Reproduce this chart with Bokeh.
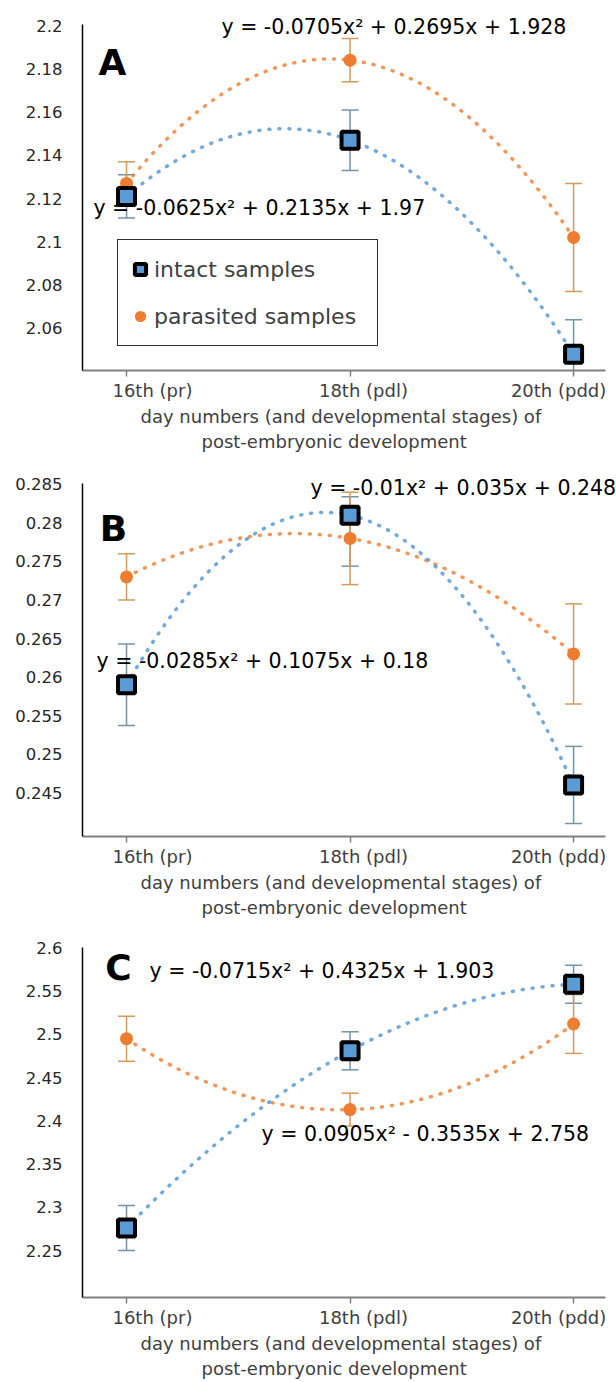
import numpy as np
from bokeh.plotting import figure
from bokeh.models import (ColumnDataSource, Whisker, TeeHead, Label, Legend, LegendItem,
                          FixedTicker, Range1d, Title, LinearAxis)
from bokeh.layouts import column
from bokeh.embed import file_html
from bokeh.resources import INLINE

# ---------------- data ----------------
days = [1, 2, 3]
day_labels = ["16th (pr)", "18th (pdl)", "20th (pdd)"]

a_intact = [2.121, 2.147, 2.048]
a_intact_err_lo = [0.010, 0.014, 0.016]
a_intact_err_hi = [0.010, 0.014, 0.016]
a_paras = [2.127, 2.184, 2.102]
a_paras_err_lo = [0.010, 0.010, 0.025]
a_paras_err_hi = [0.010, 0.010, 0.025]
a_ticks = [2.06, 2.08, 2.1, 2.12, 2.14, 2.16, 2.18, 2.2]
a_tick_labels = ["2.06", "2.08", "2.1", "2.12", "2.14", "2.16", "2.18", "2.2"]
a_eq_paras = "y = -0.0705x\u00b2 + 0.2695x + 1.928"
a_eq_intact = "y = -0.0625x\u00b2 + 0.2135x + 1.97"

b_intact = [0.259, 0.281, 0.246]
b_intact_err_lo = [0.0053, 0.0066, 0.005]
b_intact_err_hi = [0.0053, 0.0024, 0.005]
b_paras = [0.273, 0.278, 0.263]
b_paras_err_lo = [0.003, 0.006, 0.0065]
b_paras_err_hi = [0.003, 0.006, 0.0065]
b_ticks = [0.245, 0.25, 0.255, 0.26, 0.265, 0.27, 0.275, 0.28, 0.285]
b_tick_labels = ["0.245", "0.25", "0.255", "0.26", "0.265", "0.27", "0.275", "0.28", "0.285"]
b_eq_paras = "y = -0.01x\u00b2 + 0.035x + 0.248"
b_eq_intact = "y = -0.0285x\u00b2 + 0.1075x + 0.18"

c_intact = [2.276, 2.481, 2.558]
c_intact_err_lo = [0.026, 0.022, 0.022]
c_intact_err_hi = [0.026, 0.022, 0.022]
c_paras = [2.495, 2.413, 2.512]
c_paras_err_lo = [0.026, 0.019, 0.034]
c_paras_err_hi = [0.026, 0.019, 0.034]
c_ticks = [2.25, 2.3, 2.35, 2.4, 2.45, 2.5, 2.55, 2.6]
c_tick_labels = ["2.25", "2.3", "2.35", "2.4", "2.45", "2.5", "2.55", "2.6"]
c_eq_intact = "y = -0.0715x\u00b2 + 0.4325x + 1.903"
c_eq_paras = "y = 0.0905x\u00b2 - 0.3535x + 2.758"

title_line1 = "day numbers (and developmental stages) of"
title_line2 = "post-embryonic development"

# ---------------- styles ----------------
BLUE = "#5B9BD5"
ORANGE = "#ED7D31"
BLUE_ERR = "#7393a7"
ORANGE_ERR = "#d49a5c"
FONT = "DejaVu Sans"
TXT = "#404040"
LABEL_POS = [1.116, 2.06, 2.933]   # where the category texts sit along x
X_AXIS_SPAN = (0.803, 3.143)


def make_panel(height, bottom, yr, y_top, ticks, tick_labels, intact, intact_lo, intact_hi,
               paras, paras_lo, paras_hi, letter, letter_pos, eqs, legend=False):
    p = figure(width=616, height=height, x_range=Range1d(0.803, 3.192),
               y_range=Range1d(*yr), output_backend="svg", toolbar_location=None,
               min_border_left=82, min_border_right=0, min_border_top=0,
               min_border_bottom=bottom)
    p.grid.visible = False
    p.outline_line_color = None

    yax = p.yaxis[0]
    yax.bounds = (yr[0], y_top)
    yax.ticker = FixedTicker(ticks=ticks)
    yax.major_label_overrides = dict(zip(ticks, tick_labels))
    yax.major_tick_out = 0
    yax.major_tick_in = 0
    yax.minor_tick_out = 0
    yax.minor_tick_in = 0
    yax.axis_line_color = "black"
    yax.axis_line_width = 1.5
    yax.major_label_text_font = FONT
    yax.major_label_text_font_size = "16.5px"
    yax.major_label_text_color = "#262626"
    yax.major_label_standoff = 20

    xax = p.xaxis[0]
    xax.bounds = X_AXIS_SPAN
    xax.ticker = FixedTicker(ticks=days)
    xax.major_label_overrides = {d: "" for d in days}
    xax.major_label_text_font_size = "1px"
    xax.major_label_standoff = 0
    xax.major_tick_out = 6
    xax.major_tick_in = 0
    xax.minor_tick_out = 0
    xax.minor_tick_in = 0
    xax.axis_line_color = "#808080"
    xax.axis_line_width = 2
    xax.major_tick_line_color = "#808080"
    xax.major_tick_line_width = 1.5

    lab_ax = LinearAxis(ticker=FixedTicker(ticks=LABEL_POS),
                        major_label_overrides=dict(zip(LABEL_POS, day_labels)),
                        axis_line_color=None, major_tick_line_color=None,
                        minor_tick_line_color=None, major_tick_out=0, major_tick_in=0,
                        minor_tick_out=0, minor_tick_in=0,
                        major_label_text_font=FONT, major_label_text_font_size="18px",
                        major_label_text_color=TXT, major_label_standoff=3)
    p.add_layout(lab_ax, "below")

    for t, so, off in ((title_line1, 0, 58), (title_line2, 4, 119)):
        p.add_layout(Title(text=t, align="left", offset=off, text_font=FONT,
                           text_font_size="18px", text_font_style="normal",
                           text_color=TXT, standoff=so), "below")

    xs = np.linspace(1, 3, 120)
    for vals, col, al in ((paras, ORANGE, 0.8), (intact, BLUE, 0.85)):
        coef = np.polyfit(days, vals, 2)
        p.line(xs, np.polyval(coef, xs), line_color=col, line_alpha=al, line_width=3.5,
               line_dash="1 9", line_cap="round")

    for vals, lo, hi, col in ((intact, intact_lo, intact_hi, BLUE_ERR),
                              (paras, paras_lo, paras_hi, ORANGE_ERR)):
        src = ColumnDataSource(dict(x=days,
                                    upper=[v + e for v, e in zip(vals, hi)],
                                    lower=[v - e for v, e in zip(vals, lo)]))
        w = Whisker(base="x", upper="upper", lower="lower", source=src,
                    line_color=col, line_width=1.5,
                    upper_head=TeeHead(size=17, line_color=col, line_width=1.5),
                    lower_head=TeeHead(size=17, line_color=col, line_width=1.5))
        p.add_layout(w)

    ci = p.scatter(days, paras, marker="circle", size=13, fill_color=ORANGE,
                   line_color=None)
    sq = p.scatter(days, intact, marker="square", size=17, fill_color=BLUE,
                   line_color="black", line_width=4)

    for (txt, x, y) in eqs:
        p.add_layout(Label(x=x, y=y, text=txt, text_font=FONT, text_font_size="20.5px",
                           text_align="left", text_baseline="middle", text_color="black"))
    p.add_layout(Label(x=letter_pos[0], y=letter_pos[1], text=letter, text_font=FONT,
                       text_font_style="bold", text_font_size="36px", text_align="center",
                       text_baseline="middle", text_color="black"))

    if legend:
        lg = Legend(items=[LegendItem(label="intact samples", renderers=[sq]),
                           LegendItem(label="parasited samples", renderers=[ci])],
                    location=(35, 24), border_line_color="#303030", border_line_width=1.5,
                    border_line_alpha=1, background_fill_alpha=1, padding=8, spacing=5,
                    glyph_width=28, glyph_height=42, label_standoff=0, label_width=215,
                    label_height=42, label_text_font=FONT, label_text_font_size="22px",
                    label_text_color=TXT, margin=0)
        p.add_layout(lg)
    return p


pA = make_panel(460, 90, (2.0405, 2.2116), 2.2005, a_ticks, a_tick_labels,
                a_intact, a_intact_err_lo, a_intact_err_hi,
                a_paras, a_paras_err_lo, a_paras_err_hi,
                "A", (0.937, 2.183),
                [(a_eq_paras, 1.425, 2.1993), (a_eq_intact, 0.852, 2.1155)], legend=True)
pB = make_panel(460, 84, (0.2393, 0.28811), 0.28513, b_ticks, b_tick_labels,
                b_intact, b_intact_err_lo, b_intact_err_hi,
                b_paras, b_paras_err_lo, b_paras_err_hi,
                "B", (0.942, 0.2793),
                [(b_eq_paras, 1.823, 0.2846), (b_eq_intact, 0.866, 0.2621)])
pC = make_panel(462, 85, (2.1957, 2.6317), 2.6005, c_ticks, c_tick_labels,
                c_intact, c_intact_err_lo, c_intact_err_hi,
                c_paras, c_paras_err_lo, c_paras_err_hi,
                "C", (0.964, 2.5774),
                [(c_eq_intact, 1.103, 2.5728), (c_eq_paras, 1.604, 2.3845)])

layout = column(pA, pB, pC, spacing=0)
open("out.html", "w").write(file_html(layout, INLINE))
